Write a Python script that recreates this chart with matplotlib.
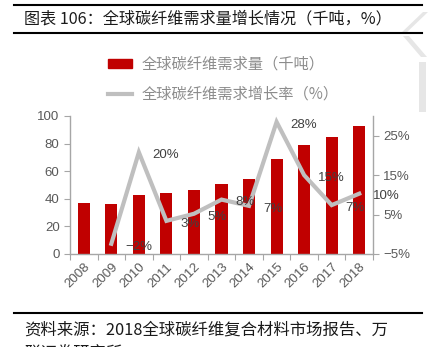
import numpy as np
import matplotlib.pyplot as plt
from matplotlib.patches import Patch, Polygon
from matplotlib.lines import Line2D

plt.rcParams['font.family'] = ['Noto Sans CJK SC', 'DejaVu Sans']
NUM_FONT = ["Liberation Sans", "DejaVu Sans"]

# data
years = ["2008", "2009", "2010", "2011", "2012", "2013", "2014", "2015", "2016", "2017", "2018"]
demand = [37, 36, 43, 44.5, 46.5, 50.5, 54, 68.8, 79, 84.5, 93]
growth_years = years[1:]
growth = [-2.4, 20.8, 3.4, 5.2, 8.8, 7.2, 28.5, 15.0, 7.4, 10.3]
growth_labels = ["\u22122%", "20%", "3%", "5%", "8%", "7%", "28%", "15%", "7%", "10%"]

RED = "#C00000"
GRAY = "#BFBFBF"
TXT = "#595959"

fig = plt.figure(figsize=(4.29, 3.47), dpi=100)
W, H = 429, 347

# faint watermark strokes at the right edge
for pts in ([(423, 12), (428, 12), (405, 34), (400, 34)],
            [(403, 36), (409, 36), (427, 57), (421, 57)],
            [(419, 62), (426, 62), (426, 112), (419, 112)]):
    fig.add_artist(Polygon([(px / W, 1 - py / H) for px, py in pts], closed=True,
                           facecolor="#E6E6E6", edgecolor="none", transform=fig.transFigure))

ax = fig.add_axes([70 / W, 1 - 254 / H, 303 / W, 138 / H])
ax2 = ax.twinx()

x = np.arange(len(years))
ax.bar(x, demand, width=0.44, color=RED, zorder=2)
ax.set_xlim(-0.5, len(years) - 0.5)
ax.set_ylim(0, 100)
ax.set_yticks([0, 20, 40, 60, 80, 100])

xg = np.arange(1, len(years))
ax2.plot(xg, growth, color=GRAY, linewidth=3, solid_joinstyle="miter")
ax2.set_ylim(-5, 30)
ax2.set_yticks([-5, 5, 15, 25])
ax2.set_yticklabels(["\u22125%", "5%", "15%", "25%"])
for xi, yi, lab in zip(xg, growth, growth_labels):
    ax2.annotate(lab, (xi, yi), xytext=(10, -2), textcoords="offset points",
                 ha="left", va="center", fontsize=9.5, color="#404040",
                 family=NUM_FONT)

# ticks
ax.set_xticks(np.arange(-0.5, len(years), 1.0))
ax.set_xticklabels([])
ax.set_xticks(x, minor=True)
ax.set_xticklabels(years, minor=True, rotation=45, ha="right", va="top",
                   rotation_mode="anchor", fontsize=9.5, color=TXT, family=NUM_FONT)
ax.tick_params(axis="x", which="minor", length=0, pad=5)
ax.tick_params(axis="x", which="major", length=4, color="#A6A6A6", direction="out")
ax.tick_params(axis="y", length=4, color="#A6A6A6", labelsize=9.5, labelcolor=TXT)
ax2.tick_params(axis="y", length=4, color="#A6A6A6", labelsize=9.5, labelcolor=TXT)
for lab in ax.get_yticklabels() + ax2.get_yticklabels():
    lab.set_family(NUM_FONT)

for a in (ax, ax2):
    a.spines["top"].set_visible(False)
    for s in ("left", "right", "bottom"):
        a.spines[s].set_color("#A6A6A6")
        a.spines[s].set_linewidth(1.0)
ax.spines["right"].set_visible(False)
ax2.spines["left"].set_visible(False)
ax2.spines["bottom"].set_visible(False)

# legend
handles = [Patch(facecolor=RED, edgecolor=RED),
           Line2D([0], [0], color=GRAY, linewidth=3)]
fig.legend(handles, ["全球碳纤维需求量（千吨）", "全球碳纤维需求增长率（%）"],
           loc="upper left", bbox_to_anchor=(94 / W, 1 - 42 / H), frameon=False,
           fontsize=11, labelcolor="#8C8C8C", handlelength=1.6, handleheight=0.55,
           handletextpad=0.6, labelspacing=0.85)

# title block
fig.add_artist(Line2D([14 / W, 422 / W], [1 - 5 / H, 1 - 5 / H], color="black", linewidth=1.5))
fig.add_artist(Line2D([14 / W, 422 / W], [1 - 33 / H, 1 - 33 / H], color="black", linewidth=1.5))
fig.text(24 / W, 1 - 19 / H, "图表 106：全球碳纤维需求量增长情况（千吨，%）",
         fontsize=11.6, ha="left", va="center", color="#1A1A1A")

# source
fig.add_artist(Line2D([14 / W, 422 / W], [1 - 313 / H, 1 - 313 / H], color="black", linewidth=1.5))
fig.text(24 / W, 1 - 330 / H, "资料来源：2018全球碳纤维复合材料市场报告、万",
         fontsize=11.8, ha="left", va="center", style="italic", color="#1A1A1A")
fig.text(24 / W, 1 - 354 / H, "联证券研究所",
         fontsize=11.8, ha="left", va="center", style="italic", color="#1A1A1A")

fig.savefig("out.png", dpi=100)
